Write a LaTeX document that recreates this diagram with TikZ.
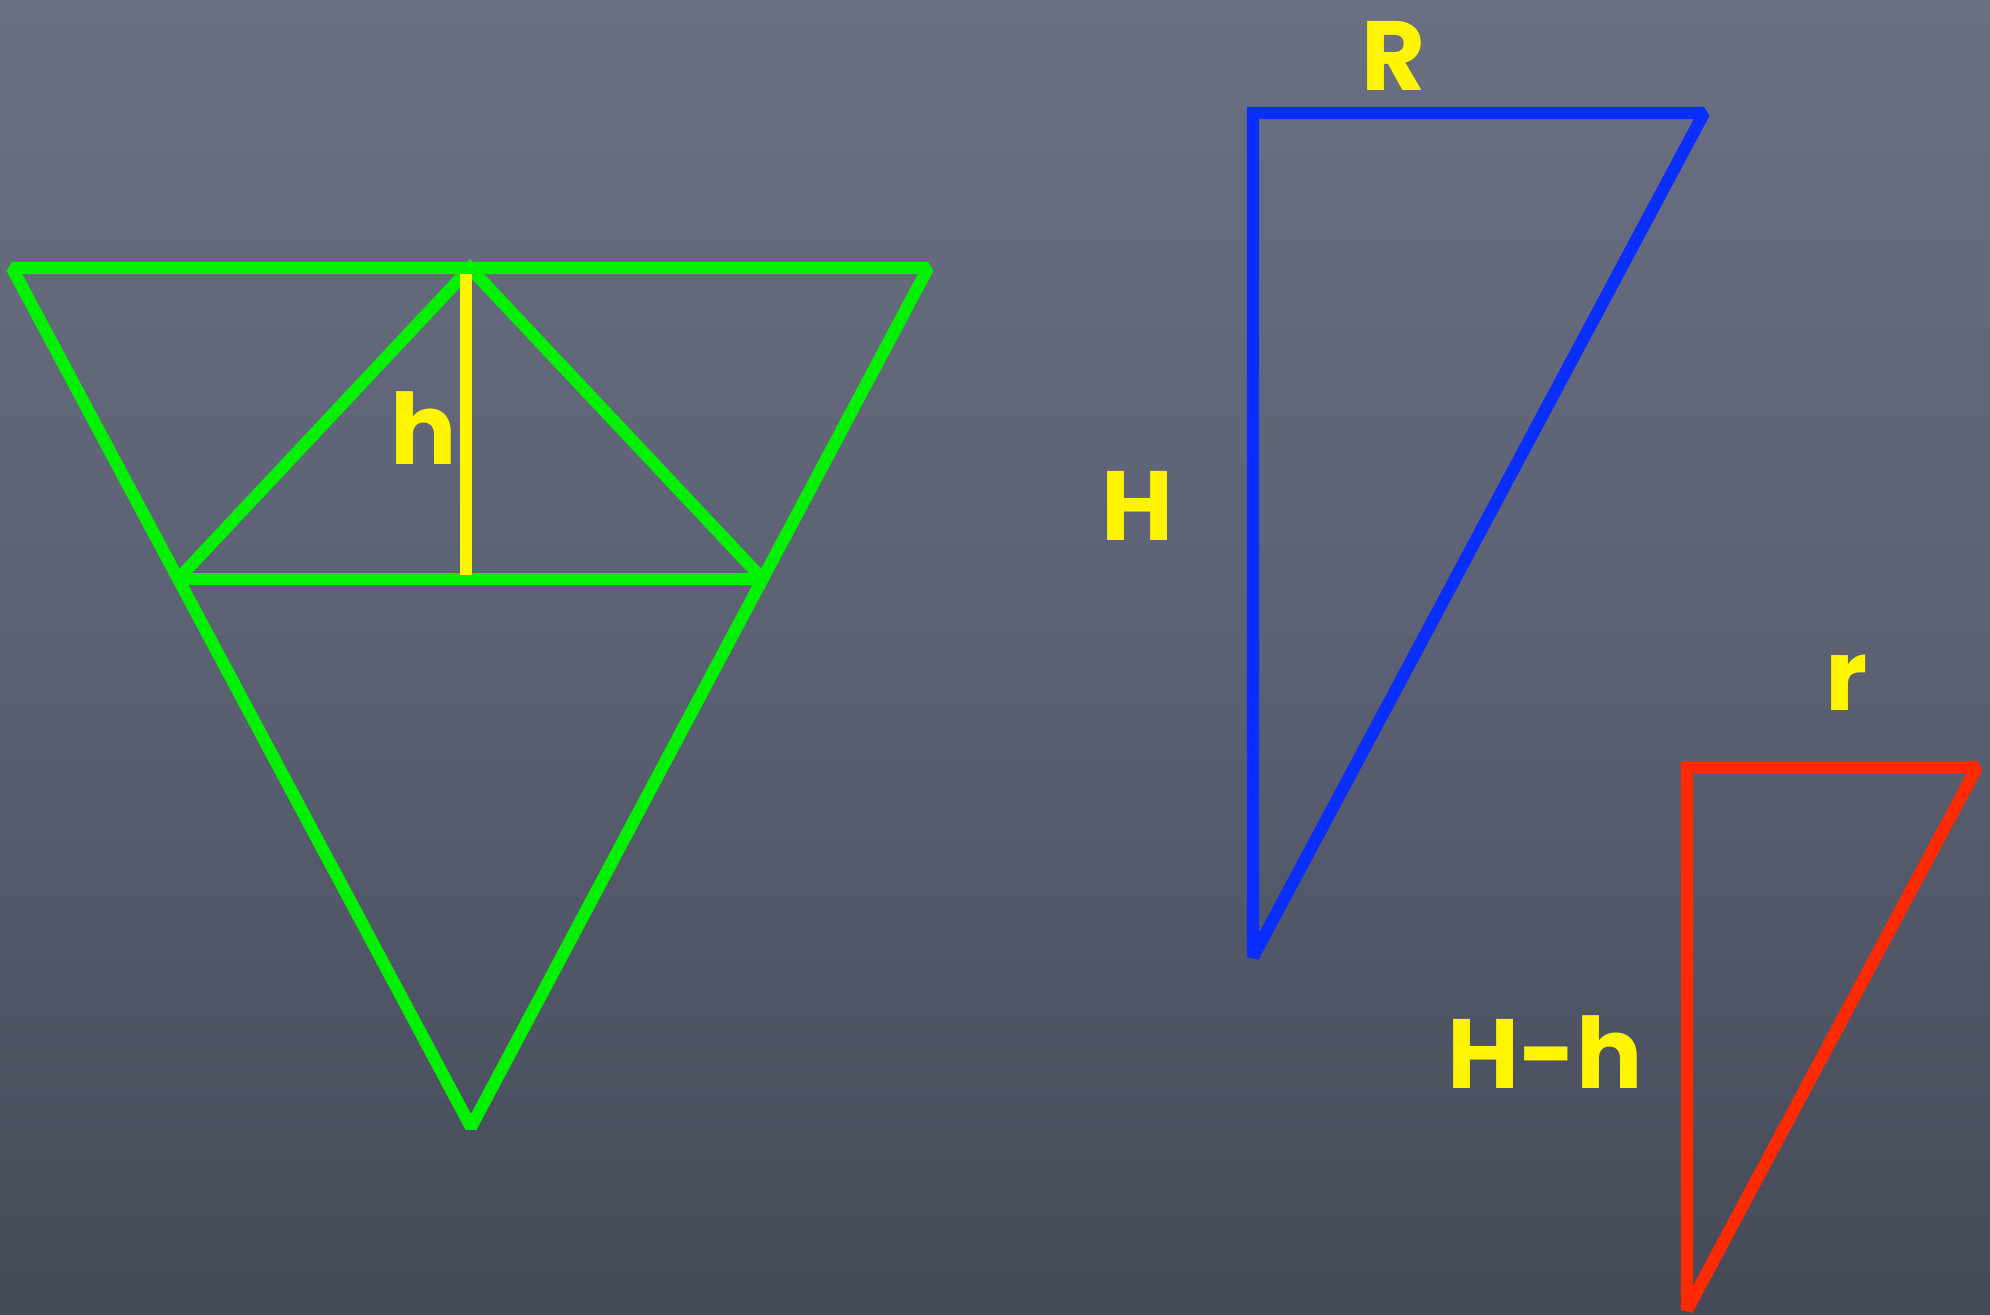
\documentclass[tikz,border=0pt]{standalone}
\usepackage{fontspec}
\setmainfont{Poppins}
\usetikzlibrary{calc}

\definecolor{board}{HTML}{5B6172}
\definecolor{boardtop}{HTML}{6A7081}
\definecolor{boardlow}{HTML}{454A58}
\definecolor{chalkgreen}{HTML}{00F000}
\definecolor{chalkblue}{HTML}{0A2EFF}
\definecolor{chalkred}{HTML}{FF2A00}
\definecolor{chalkyellow}{HTML}{FFF500}

\begin{document}
\begin{tikzpicture}[x=0.01cm, y=-0.01cm,
    edge/.style={line width=3.5pt, line join=miter, miter limit=1.5},
    lbl/.style={font=\fontsize{28}{30}\selectfont\bfseries, text=chalkyellow, inner sep=0pt}]
  % board
  \shade[top color=boardtop, bottom color=boardlow, middle color=board]
       (0,0) rectangle (1990,1315);
  \useasboundingbox (0,0) rectangle (1990,1315);

  % big cone section
  \coordinate (topL) at (12,268);
  \coordinate (topR) at (928,268);
  \coordinate (tip)  at (471,1127);
  \coordinate (apex) at ($(topL)!0.5!(topR)$);
  \coordinate (midL) at ($(topL)!0.362!(tip)$);
  \coordinate (midR) at ($(topR)!0.362!(tip)$);
  \draw[edge, chalkgreen] (topL) -- (topR) -- (tip) -- cycle;
  \draw[edge, chalkgreen] (midL) -- (apex) -- (midR);
  \draw[edge, chalkgreen] (midL) -- (midR);

  % height of the small cylinder
  \coordinate (hTop) at (466,274);
  \coordinate (hBot) at (466,575);
  \draw[edge, chalkyellow] (hTop) -- (hBot);
  \node[lbl] (hLabel) at (424,428) {h};

  % whole cone
  \coordinate (bigA) at (1253,113);
  \coordinate (bigB) at (1704,113);
  \coordinate (bigC) at (1253,957);
  \draw[edge, chalkblue] (bigA) -- (bigB) -- (bigC) -- cycle;
  \node[lbl] (RLabel) at (1394,56) {R};
  \node[lbl] (HLabel) at (1137,506) {H};

  % cone above the cylinder
  \coordinate (smA) at (1687,767);
  \coordinate (smB) at (1977,767);
  \coordinate (smC) at (1687,1310);
  \draw[edge, chalkred] (smA) -- (smB) -- (smC) -- cycle;
  \node[lbl] (rLabel) at (1847,683) {r};
  \node[lbl] (HhLabel) at (1545,1052) {H-h};
\end{tikzpicture}
\end{document}
